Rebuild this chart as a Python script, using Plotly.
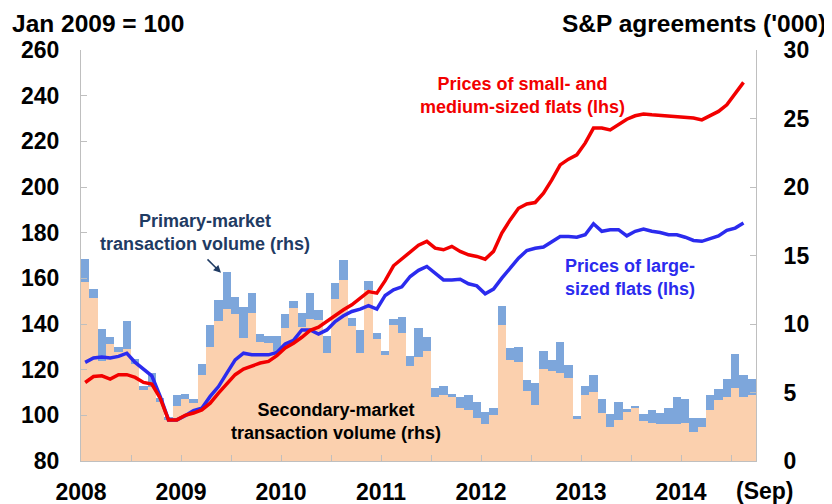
import numpy as np
import plotly.graph_objects as go

# S&P agreements ('000), monthly Jan 2008 - Sep 2014
secondary = [13.1, 11.9, 7.3, 8.55, 7.95, 8.2, 7.1, 5.15, 5.4, 4.3, 3.0, 4.0,
             4.5, 4.25, 6.3, 8.3, 10.2, 11.1, 10.7, 8.95, 10.8, 8.7, 8.6, 8.0,
             9.7, 11.15, 9.8, 10.4, 10.3, 7.85, 11.8, 13.2, 9.85, 7.85, 12.45, 8.9,
             7.75, 9.95, 9.35, 6.95, 7.6, 8.0, 4.7, 4.85, 4.65, 3.85, 3.7, 3.15,
             2.7, 3.35, 9.9, 7.4, 7.25, 5.1, 4.1, 6.75, 6.55, 6.45, 6.05, 3.05,
             4.85, 5.05, 3.5, 2.45, 3.0, 3.6, 3.85, 2.9, 2.8, 2.7, 2.7, 2.7,
             2.75, 2.1, 2.45, 3.7, 4.45, 4.65, 5.3, 4.7, 4.8]
primary = [1.65, 0.65, 2.3, 0.5, 0.35, 2.0, 0.35, 0.3, 1.0, 0.3, 0.2, 0.8,
           0.4, 0.3, 0.8, 1.6, 1.55, 2.7, 1.3, 2.3, 1.45, 0.6, 0.55, 1.1,
           1.0, 0.55, 1.0, 1.85, 0.7, 1.3, 1.2, 1.45, 0.6, 1.7, 0.7, 0.45,
           0.25, 0.45, 1.15, 0.7, 2.1, 1.05, 0.6, 0.65, 0.25, 0.85, 1.15, 1.15,
           0.85, 0.55, 1.45, 0.85, 1.1, 0.8, 1.6, 1.3, 0.8, 2.25, 0.95, 0.25,
           0.6, 1.25, 1.05, 1.0, 1.3, 0.2, 0.2, 0.55, 0.9, 0.8, 1.15, 2.0,
           1.75, 1.05, 0.7, 1.15, 0.8, 1.3, 2.5, 1.55, 1.2]

# price indices, Jan 2009 = 100, monthly Jan 2008 - Aug 2014
small_medium = [114.4, 117.0, 117.3, 115.9, 117.8, 117.8, 116.6, 114.4, 113.7, 107.5, 98.0, 98.0,
                100.0, 101.0, 102.4, 105.3, 109.7, 113.8, 117.8, 120.3, 121.5, 122.9, 123.6, 126.1,
                129.5, 131.6, 134.2, 137.2, 138.6, 141.1, 144.0, 146.2, 148.4, 151.3, 154.2, 153.5,
                159.0, 165.5, 168.5, 171.8, 174.5, 176.2, 173.2, 172.5, 174.0, 171.8, 170.3, 169.6,
                168.4, 171.8, 179.8, 185.6, 190.7, 192.6, 193.2, 197.3, 203.1, 209.7, 212.2, 214.1,
                219.2, 225.8, 225.8, 225.0, 227.2, 229.7, 231.2, 232.0, 231.6, 231.3, 230.9, 230.9,
                230.6, 230.2, 229.4, 231.2, 233.1, 236.0, 241.1, 245.8]
large = [123.2, 125.1, 125.5, 125.1, 125.8, 127.2, 123.2, 120.0, 117.3, 108.3, 98.0, 98.0,
         99.8, 102.1, 103.1, 108.3, 112.6, 118.5, 124.3, 127.2, 126.5, 126.5, 126.5, 127.5,
         131.2, 132.8, 137.4, 137.4, 135.6, 137.4, 141.1, 143.6, 145.5, 146.5, 148.0, 146.5,
         152.5, 155.0, 156.3, 160.8, 163.5, 165.2, 162.2, 159.3, 159.3, 159.6, 157.6, 156.7,
         153.2, 155.3, 160.1, 164.5, 168.8, 172.2, 173.2, 173.7, 176.2, 178.3, 178.3, 178.0,
         179.1, 183.9, 180.6, 181.3, 181.3, 178.6, 180.6, 181.6, 180.6, 180.1, 179.1, 179.1,
         178.0, 176.6, 176.2, 177.6, 178.6, 181.0, 182.0, 184.2]

years = ["2008", "2009", "2010", "2011", "2012", "2013", "2014"]

FONT = "Liberation Sans, Arial, sans-serif"
GRAY = "#BFBFBF"
PEACH = "#FBD0AE"
LIGHTBLUE = "#7DA6DB"
RED = "#F20000"
BLUE = "#2B2BEE"
NAVY = "#1F3B63"

n = len(secondary)
x_bar = np.arange(n) + 0.5
x_line = np.arange(len(small_medium)) + 0.5

fig = go.Figure()
fig.add_trace(go.Bar(x=x_bar, y=secondary, marker=dict(color=PEACH, line=dict(width=0)),
                     yaxis="y", name="Secondary"))
fig.add_trace(go.Bar(x=x_bar, y=primary, marker=dict(color=LIGHTBLUE, line=dict(width=0)),
                     yaxis="y", name="Primary"))
fig.add_trace(go.Scatter(x=x_line, y=large, mode="lines", line=dict(color=BLUE, width=3.5),
                         yaxis="y2", name="Large"))
fig.add_trace(go.Scatter(x=x_line, y=small_medium, mode="lines", line=dict(color=RED, width=3.5),
                         yaxis="y2", name="Small/medium"))

tickvals = list(range(0, n, 6))
ticktext = [years[v // 12] if v % 12 == 0 else "" for v in tickvals]

axis_font = dict(family=FONT, size=23, color="black", weight="bold")
title_font = dict(family=FONT, size=24.5, color="black", weight="bold")

# page body has an 8px margin, so the figure is drawn 8px smaller and offset
fig.update_layout(
    width=824, height=496,
    margin=dict(l=73, r=76, t=42, b=43),
    paper_bgcolor="white", plot_bgcolor="white",
    showlegend=False, barmode="stack", bargap=0,
    font=dict(family=FONT),
    xaxis=dict(range=[0, n], tickmode="array", tickvals=tickvals, ticktext=ticktext,
               ticks="inside", ticklen=6, tickcolor=GRAY, showline=True, linecolor=GRAY,
               linewidth=1, showgrid=False, zeroline=False, tickfont=axis_font,
               ticklabelstandoff=10, automargin=False),
    yaxis=dict(side="right", range=[0, 30], tickvals=list(range(0, 31, 5)),
               ticks="inside", ticklen=6, tickcolor=GRAY, showline=True, linecolor=GRAY,
               showgrid=False, zeroline=False, tickfont=axis_font, ticklabelstandoff=22,
               automargin=False),
    yaxis2=dict(overlaying="y", side="left", range=[80, 260], tickvals=list(range(80, 261, 20)),
                ticks="inside", ticklen=6, tickcolor=GRAY, showline=True, linecolor=GRAY,
                showgrid=False, zeroline=False, tickfont=axis_font, ticklabelstandoff=16,
                automargin=False),
)

ann_font = dict(family=FONT, size=18, weight="bold")
fig.add_annotation(x=-0.105, y=1.064, xref="paper", yref="paper", xanchor="left", yanchor="middle",
                   text="Jan 2009 = 100", showarrow=False, font=title_font)
fig.add_annotation(x=1.107, y=1.064, xref="paper", yref="paper", xanchor="right", yanchor="middle",
                   text="S&P agreements ('000)", showarrow=False, font=title_font)
fig.add_annotation(x=1.013, y=-0.073, xref="paper", yref="paper", xanchor="center", yanchor="middle",
                   text="(Sep)", showarrow=False, font=axis_font)

fig.add_annotation(x=53.0, y=240, xref="x", yref="y2", text="Prices of small- and<br>medium-sized flats (lhs)",
                   showarrow=False, align="center", font=dict(ann_font, color=RED))
fig.add_annotation(x=65.9, y=160.5, xref="x", yref="y2", text="Prices of large-<br>sized flats (lhs)",
                   showarrow=False, align="center", font=dict(ann_font, color=BLUE))
fig.add_annotation(x=14.9, y=180.2, xref="x", yref="y2", text="Primary-market<br>transaction volume (rhs)",
                   showarrow=False, align="center", font=dict(ann_font, color=NAVY))
fig.add_annotation(x=30.6, y=97.2, xref="x", yref="y2", text="Secondary-market<br>transaction volume (rhs)",
                   showarrow=False, align="center", font=dict(ann_font, color="black"))
# arrow to the primary-market bar
fig.add_annotation(x=16.8, y=162.4, xref="x", yref="y2", ax=-15, ay=-15, text="",
                   showarrow=True, arrowhead=2, arrowsize=1, arrowwidth=1.5, arrowcolor=NAVY)

fig.write_html("out.html")
